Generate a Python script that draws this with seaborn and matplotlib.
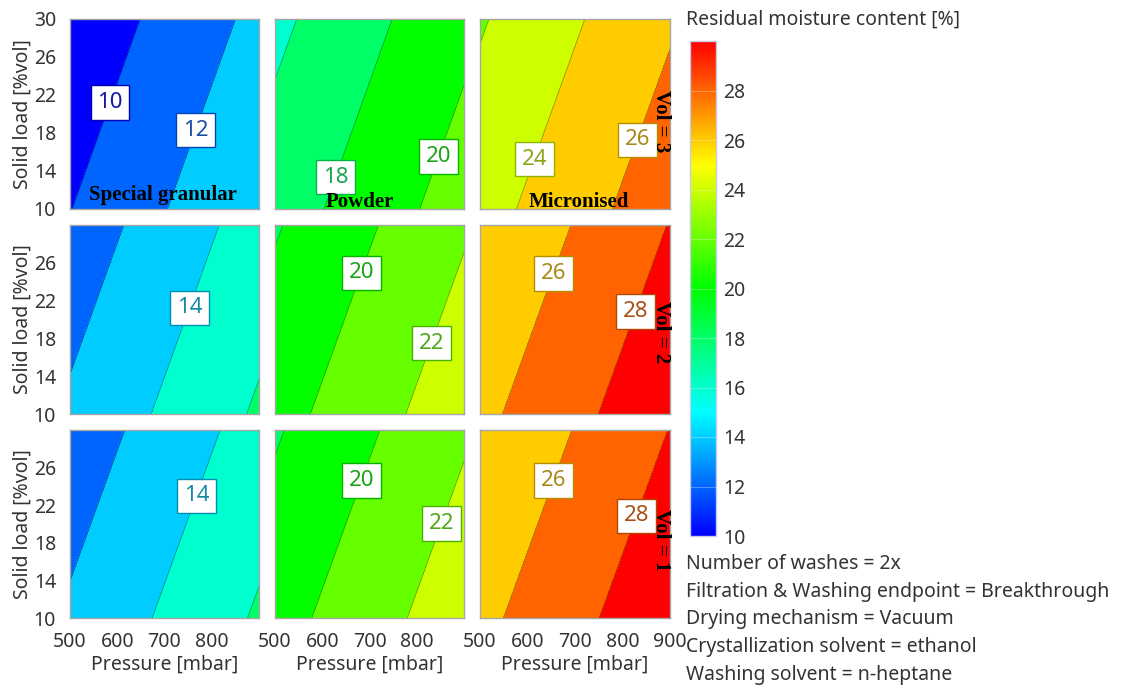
import numpy as np
import matplotlib
matplotlib.use("Agg")
import matplotlib.pyplot as plt
import seaborn as sns
from matplotlib.colors import Normalize
from matplotlib.cm import ScalarMappable

# ---- model summary -------------------------------------------------------
particle_types = ["Special granular", "Powder", "Micronised"]
wash_volumes = [3, 2, 1]                      # panel rows, top to bottom

# predicted residual moisture [%] at 500 mbar and 10 %vol solid load
moisture_vol3 = [9.96, 16.97, 23.24]
moisture_vol2 = [12.30, 19.26, 25.53]
moisture_vol1 = [12.28, 19.23, 25.51]

pressure_effect = 0.99      # % moisture per 100 mbar
solid_load_effect = -0.713  # % moisture per 10 %vol

pressure_range = [500, 900]
solid_load_range = [10, 30]
contour_levels = [10, 12, 14, 16, 18, 20, 22, 24, 26, 28, 30]
colorbar_ticks = [10, 12, 14, 16, 18, 20, 22, 24, 26, 28]

# contour label anchors (pressure, solid load) per panel
labels_vol3 = [[(585, 21.2), (765, 18.3)], [(631, 13.3), (847, 15.5)], [(616, 15.2), (830, 17.3)]]
labels_vol2 = [[(754, 21.2)], [(684, 24.9), (830, 17.5)], [(652, 24.9), (824, 20.9)]]
labels_vol1 = [[(767, 23.0)], [(680, 24.7), (845, 20.2)], [(652, 24.7), (829, 20.9)]]

settings = [
    "Number of washes = 2x",
    "Filtration & Washing endpoint = Breakthrough",
    "Drying mechanism = Vacuum",
    "Crystallization solvent = ethanol",
    "Washing solvent = n-heptane",
]

moisture_rows = [moisture_vol3, moisture_vol2, moisture_vol1]
label_rows = [labels_vol3, labels_vol2, labels_vol1]

# ---- style ---------------------------------------------------------------
sns.set_theme(style="white")
plt.rcParams["font.family"] = ["Noto Sans", "DejaVu Sans"]
UI = "#333333"
SPINE = "#a6a6a6"
FS = 14
SERIF = dict(family="Liberation Serif", weight="bold", size=15, color="black")

cmap = sns.blend_palette(["#0000ff", "#00ffff", "#00ff00", "#ffff00", "#ff0000"], as_cmap=True)
norm = Normalize(vmin=10, vmax=30)

# filled bands take the colour of their upper bound
fill_levels = [0] + contour_levels + [40]
fill_colors = [cmap(norm(min(v, 30))) for v in fill_levels[1:]]


def darker(c, f=0.72):
    return tuple(x * f for x in c[:3])


def muted(c, f=0.7, grey=0.45):
    return tuple(x * f * 0.8 + grey * 0.2 for x in c[:3])


W, H = 1127, 688
fig = plt.figure(figsize=(W / 100, H / 100), dpi=100)

col_px = [(70, 259), (275, 464), (480, 670)]
row_px = [(19, 209), (225, 414), (430, 618)]

P = np.linspace(*pressure_range, 161)
S = np.linspace(*solid_load_range, 81)
PP, SS = np.meshgrid(P, S)

title_pos = [(0.49, 0.047), (0.45, 0.012), (0.52, 0.012)]
vol_pos = [0.46, 0.434, 0.415]

for r, vol in enumerate(wash_volumes):
    for c, ptype in enumerate(particle_types):
        x0, x1 = col_px[c]
        y0, y1 = row_px[r]
        ax = fig.add_axes([x0 / W, 1 - y1 / H, (x1 - x0) / W, (y1 - y0) / H])

        Z = (moisture_rows[r][c]
             + pressure_effect * (PP - pressure_range[0]) / 100
             + solid_load_effect * (SS - solid_load_range[0]) / 10)

        ax.contourf(PP, SS, Z, levels=fill_levels, colors=fill_colors)
        line_cols = [darker(cmap(norm(v)), 0.65) for v in contour_levels]
        cs = ax.contour(PP, SS, Z, levels=contour_levels, colors=line_cols, linewidths=0.6)

        anchors = label_rows[r][c]
        texts = ax.clabel(cs, manual=anchors, inline=False, fmt="%d", fontsize=16)
        for t in texts:
            val = float(t.get_text())
            col = muted(cmap(norm(val)))
            t.set_color(col)
            t.set_bbox(dict(boxstyle="square,pad=0.3", facecolor="white",
                            edgecolor=darker(cmap(norm(val)), 0.7), linewidth=1.0))
            t.set_rotation(0)
            t.set_zorder(5)

        ax.set_xlim(*pressure_range)
        ax.set_ylim(*solid_load_range)
        for sp in ax.spines.values():
            sp.set_color(SPINE)
            sp.set_linewidth(1.0)

        ax.tick_params(axis="both", colors=SPINE, labelcolor=UI, labelsize=FS,
                       length=7, width=1.0, direction="out", pad=3)

        if r == 2:
            ax.set_xticks([500, 600, 700, 800, 900])
            ax.set_xticklabels(["500", "600", "700", "800", "900" if c == 2 else ""])
            ax.set_xlabel("Pressure [mbar]", color=UI, fontsize=FS, labelpad=2)
        else:
            ax.set_xticks([])

        if c == 0:
            yt = [10, 14, 18, 22, 26, 30] if r == 0 else [10, 14, 18, 22, 26]
            ax.set_yticks(yt)
            ax.set_yticklabels([str(v) for v in yt])
            ax.set_ylabel("Solid load [%vol]", color=UI, fontsize=FS, labelpad=1)
        else:
            ax.set_yticks([])

        if r == 0:
            tx, ty = title_pos[c]
            ax.text(tx, ty, ptype, transform=ax.transAxes, ha="center",
                    va="baseline", zorder=6, **SERIF)
        if c == 2:
            ax.text(0.955, vol_pos[r], f"Vol = {vol}", transform=ax.transAxes,
                    rotation=-90, ha="center", va="center", zorder=6, **SERIF)

# ---- colour bar ------------------------------------------------------------
cax = fig.add_axes([690 / W, 1 - 536 / H, 26 / W, 495 / H])
cb = fig.colorbar(ScalarMappable(norm=norm, cmap=cmap), cax=cax, ticks=colorbar_ticks)
cb.outline.set_edgecolor("#c9c9ee")
cb.outline.set_linewidth(1.0)
cax.tick_params(length=0, labelsize=FS, labelcolor=UI, pad=5)
for v in colorbar_ticks[1:]:
    cax.axhline(v, color="white", alpha=0.3, lw=0.8)

fig.text(686 / W, 1 - 20 / H, "Residual moisture content [%]", ha="left",
         va="center", color=UI, fontsize=FS)

for i, line in enumerate(settings):
    fig.text(686 / W, 1 - (564 + i * 27.7) / H, line, ha="left", va="center",
             color=UI, fontsize=FS)

fig.savefig("out.png", dpi=100, facecolor="white")
